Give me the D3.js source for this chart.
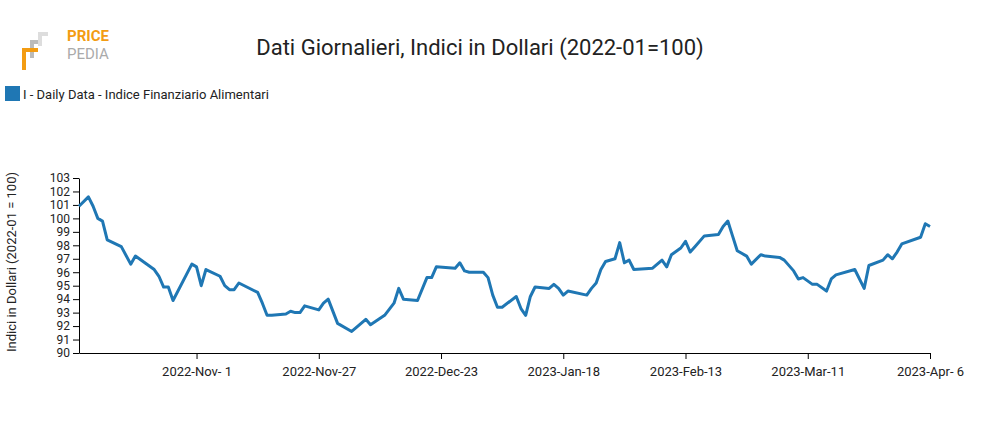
<!DOCTYPE html>
<html><head><meta charset="utf-8">
<script src="https://cdn.jsdelivr.net/npm/d3@7"></script>
<style>body{margin:0;background:#fff;font-family:Roboto,sans-serif}</style>
</head><body><svg id="c" width="985" height="430"></svg>
<script>
const dates = ["2022-10-07","2022-10-09","2022-10-10","2022-10-11","2022-10-12","2022-10-13","2022-10-16","2022-10-18","2022-10-19","2022-10-23","2022-10-24","2022-10-25","2022-10-26","2022-10-27","2022-10-31","2022-11-01","2022-11-02","2022-11-03","2022-11-06","2022-11-07","2022-11-08","2022-11-09","2022-11-10","2022-11-14","2022-11-15","2022-11-16","2022-11-17","2022-11-20","2022-11-21","2022-11-22","2022-11-23","2022-11-24","2022-11-27","2022-11-28","2022-11-29","2022-12-01","2022-12-04","2022-12-05","2022-12-07","2022-12-08","2022-12-11","2022-12-13","2022-12-14","2022-12-15","2022-12-18","2022-12-20","2022-12-21","2022-12-22","2022-12-26","2022-12-27","2022-12-28","2022-12-29","2023-01-01","2023-01-02","2023-01-03","2023-01-04","2023-01-05","2023-01-08","2023-01-09","2023-01-10","2023-01-11","2023-01-12","2023-01-15","2023-01-16","2023-01-17","2023-01-18","2023-01-19","2023-01-23","2023-01-24","2023-01-25","2023-01-26","2023-01-27","2023-01-29","2023-01-30","2023-01-31","2023-02-01","2023-02-02","2023-02-06","2023-02-08","2023-02-09","2023-02-10","2023-02-12","2023-02-13","2023-02-14","2023-02-15","2023-02-17","2023-02-20","2023-02-21","2023-02-22","2023-02-23","2023-02-24","2023-02-26","2023-02-27","2023-03-01","2023-03-02","2023-03-05","2023-03-06","2023-03-08","2023-03-09","2023-03-10","2023-03-12","2023-03-13","2023-03-15","2023-03-16","2023-03-17","2023-03-21","2023-03-23","2023-03-24","2023-03-27","2023-03-28","2023-03-29","2023-03-30","2023-03-31","2023-04-04","2023-04-05","2023-04-06"];
const values = [100.9,101.6,100.9,100.0,99.8,98.4,97.9,96.6,97.2,96.2,95.7,94.9,94.9,93.9,96.6,96.4,95.0,96.2,95.7,95.0,94.7,94.7,95.2,94.5,93.7,92.8,92.8,92.9,93.1,93.0,93.0,93.5,93.2,93.7,94.0,92.2,91.6,91.9,92.5,92.1,92.8,93.7,94.8,94.0,93.9,95.6,95.6,96.4,96.3,96.7,96.1,96.0,96.0,95.6,94.3,93.4,93.4,94.2,93.3,92.8,94.2,94.9,94.8,95.1,94.8,94.3,94.6,94.3,94.8,95.2,96.2,96.8,97.0,98.2,96.7,96.9,96.2,96.3,96.9,96.4,97.3,97.8,98.3,97.5,97.9,98.7,98.8,99.4,99.8,98.7,97.6,97.2,96.6,97.3,97.2,97.1,96.9,96.1,95.5,95.6,95.1,95.1,94.6,95.5,95.8,96.2,94.8,96.5,96.9,97.3,97.0,97.5,98.1,98.6,99.6,99.4];
const xTicks = ["2022-11-01","2022-11-27","2022-12-23","2023-01-18","2023-02-13","2023-03-11","2023-04-06"];
const yTicks = [90,91,92,93,94,95,96,97,98,99,100,101,102,103];
const title = "Dati Giornalieri, Indici in Dollari (2022-01=100)";
const seriesName = "I - Daily Data - Indice Finanziario Alimentari";
const yLabel = "Indici in Dollari (2022-01 = 100)";

const p = d3.timeParse("%Y-%m-%d");
const data = dates.map((d,i)=>({d:p(d),v:values[i]}));
const svg = d3.select("#c");
const x = d3.scaleTime().domain([p("2022-10-07"),p("2023-04-06")]).range([79,930]);
const y = d3.scaleLinear().domain([90,103]).range([353,178]);
const col = "#1f77b4";

// logo
const lg = svg.append("g");
lg.append("path").attr("d","M30,40 h12 v4 h-8 v14 h-4z").attr("fill","#bbb");
lg.append("path").attr("d","M22,48 h16 v4 h-12 v18 h-4z").attr("fill","#f39c12");
lg.append("path").attr("d","M38,32 h10 v4 h-6 v10 h-4z").attr("fill","#ddd");
lg.append("text").attr("x",67).attr("y",41).attr("font-size",15).attr("font-weight","bold").attr("fill","#f39c12").text("PRICE");
lg.append("text").attr("x",67).attr("y",59).attr("font-size",15).attr("fill","#aaa").text("PEDIA");

svg.append("text").attr("x",480).attr("y",55).attr("text-anchor","middle").attr("font-size",22).attr("fill","#222").text(title);
svg.append("rect").attr("x",5).attr("y",86).attr("width",15).attr("height",15).attr("fill",col);
svg.append("text").attr("x",23).attr("y",99).attr("font-size",13).attr("fill","#222").text(seriesName);

const fmt = d3.timeFormat("%Y-%b-%e");
const xa = svg.append("g").attr("transform","translate(0,353)")
  .call(d3.axisBottom(x).tickValues(xTicks.map(p)).tickFormat(fmt).tickSizeOuter(0));
xa.selectAll("text").attr("font-size",13).attr("font-family","Roboto").attr("fill","#222").attr("dy","1.1em");
const ya = svg.append("g").attr("transform","translate(79,0)")
  .call(d3.axisLeft(y).tickValues(yTicks).tickSizeOuter(0));
ya.selectAll("text").attr("font-size",12).attr("font-family","Roboto").attr("fill","#222");
svg.append("text").attr("transform","translate(16,262) rotate(-90)").attr("text-anchor","middle").attr("font-size",13).attr("fill","#222").text(yLabel);

svg.append("path").datum(data).attr("fill","none").attr("stroke",col).attr("stroke-width",3).attr("stroke-linejoin","round")
  .attr("d",d3.line().x(d=>x(d.d)).y(d=>y(d.v)));
</script></body></html>
